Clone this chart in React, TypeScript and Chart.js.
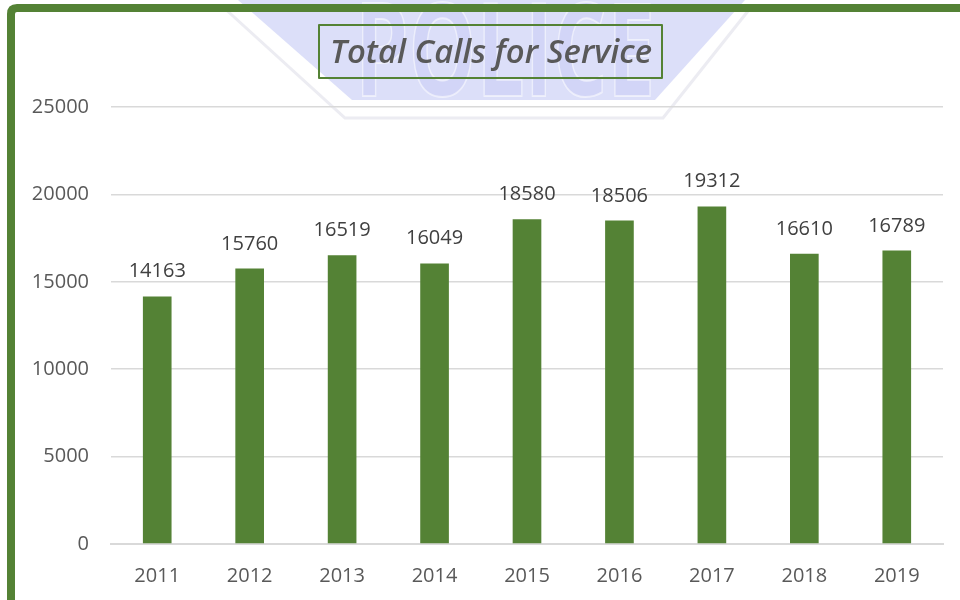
import React, { useEffect, useRef } from "react";
import { Chart, registerables } from "chart.js";

Chart.register(...registerables);

const years = ["2011", "2012", "2013", "2014", "2015", "2016", "2017", "2018", "2019"];
const totalCalls = [14163, 15760, 16519, 16049, 18580, 18506, 19312, 16610, 16789];
const titleText = "Total Calls for Service";
const watermarkText = "POLICE";
const yMax = 25000;
const yStep = 5000;

const GREEN = "#548235";
const FONT = '"Open Sans", "DejaVu Sans", sans-serif';

const decorPlugin = {
  id: "decor",
  beforeDraw(chart: any) {
    const ctx = chart.ctx as CanvasRenderingContext2D;
    ctx.save();
    ctx.fillStyle = "#ffffff";
    ctx.fillRect(0, 0, chart.width, chart.height);
    // watermark badge (faint)
    ctx.beginPath();
    ctx.moveTo(222, 6);
    ctx.lineTo(345, 118);
    ctx.lineTo(663, 118);
    ctx.lineTo(752, 6);
    ctx.strokeStyle = "#ececf2";
    ctx.lineWidth = 3;
    ctx.stroke();
    ctx.beginPath();
    ctx.moveTo(238, 0);
    ctx.lineTo(745, 0);
    ctx.lineTo(655, 100);
    ctx.lineTo(352, 100);
    ctx.closePath();
    ctx.fillStyle = "#dcdff9";
    ctx.fill();
    ctx.font = `bold 130px ${FONT}`;
    const w = ctx.measureText(watermarkText).width;
    ctx.translate(505, 96);
    ctx.scale(300 / w, 1);
    ctx.textAlign = "center";
    ctx.textBaseline = "alphabetic";
    ctx.fillStyle = "#d2d5f7";
    ctx.fillText(watermarkText, 0, 0);
    ctx.strokeStyle = "rgba(255,255,255,0.55)";
    ctx.lineWidth = 2;
    ctx.strokeText(watermarkText, 0, 0);
    ctx.restore();
  },
  afterDraw(chart: any) {
    const ctx = chart.ctx as CanvasRenderingContext2D;
    ctx.save();
    // frame
    ctx.strokeStyle = GREEN;
    ctx.lineWidth = 8;
    ctx.lineJoin = "round";
    ctx.beginPath();
    ctx.moveTo(11, 620);
    ctx.lineTo(11, 14);
    ctx.quadraticCurveTo(11, 8, 17, 8);
    ctx.lineTo(980, 8);
    ctx.stroke();
    // title box
    ctx.lineWidth = 2;
    ctx.strokeRect(319, 25, 343, 53);
    ctx.font = `italic 600 32px ${FONT}`;
    const tw = ctx.measureText(titleText).width;
    ctx.translate(491, 63);
    ctx.scale(322 / tw, 1);
    ctx.textAlign = "center";
    ctx.textBaseline = "alphabetic";
    ctx.fillStyle = "#595959";
    ctx.fillText(titleText, 0, 0);
    ctx.restore();
  },
  afterDatasetsDraw(chart: any) {
    const ctx = chart.ctx as CanvasRenderingContext2D;
    const meta = chart.getDatasetMeta(0);
    ctx.save();
    ctx.font = `20px ${FONT}`;
    ctx.fillStyle = "#404040";
    ctx.textAlign = "center";
    ctx.textBaseline = "alphabetic";
    meta.data.forEach((bar: any, i: number) => {
      ctx.fillText(String(totalCalls[i]), bar.x, bar.y - 19);
    });
    ctx.restore();
  },
};

export default function App() {
  const ref = useRef<HTMLCanvasElement | null>(null);
  useEffect(() => {
    if (!ref.current) return;
    const chart = new Chart(ref.current, {
      type: "bar",
      data: {
        labels: years,
        datasets: [
          {
            data: totalCalls,
            backgroundColor: GREEN,
            barPercentage: 0.31,
            categoryPercentage: 1,
          },
        ],
      },
      options: {
        responsive: false,
        animation: false,
        layout: { padding: { left: 0, top: 107, right: 17, bottom: 0 } },
        plugins: {
          legend: { display: false },
          title: { display: false },
          tooltip: { enabled: false },
        },
        scales: {
          x: {
            grid: { display: false },
            border: { display: true, color: "#d9d9d9", width: 2 },
            ticks: { color: "#595959", font: { family: FONT, size: 20 }, padding: 12 },
            afterFit: (s: any) => {
              s.height = 56;
            },
          },
          y: {
            min: 0,
            max: yMax,
            grid: { color: "#d9d9d9", lineWidth: 1.5, drawTicks: false },
            border: { display: false },
            ticks: {
              stepSize: yStep,
              color: "#595959",
              font: { family: FONT, size: 20 },
              padding: 22,
              callback: (v: any) => String(v),
            },
            afterFit: (s: any) => {
              s.width = 111;
            },
          },
        },
      },
      plugins: [decorPlugin],
    });
    return () => chart.destroy();
  }, []);
  return (
    <div style={{ position: "absolute", left: 0, top: 0, width: 960, height: 600 }}>
      <canvas ref={ref} width={960} height={600} />
    </div>
  );
}
